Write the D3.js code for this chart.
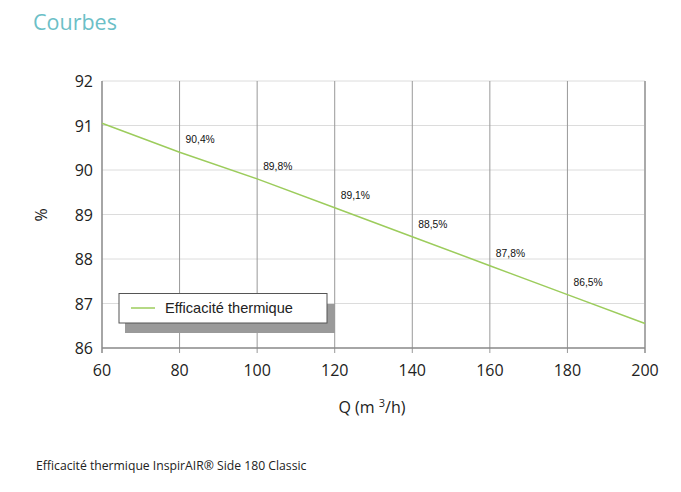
<!DOCTYPE html>
<html><head><meta charset="utf-8">
<script src="https://cdn.jsdelivr.net/npm/d3@7"></script>
<style>body{margin:0;background:#fff}svg{display:block}</style>
</head><body>
<script>
const flows = [60, 80, 100, 120, 140, 160, 180, 200];
const efficiency = [91.05, 90.4, 89.8, 89.15, 88.5, 87.85, 87.2, 86.55];
const labelFlows = [80, 100, 120, 140, 160, 180];
const labelTexts = ["90,4%", "89,8%", "89,1%", "88,5%", "87,8%", "86,5%"];
const xTicks = [60, 80, 100, 120, 140, 160, 180, 200];
const yTicks = [86, 87, 88, 89, 90, 91, 92];
const seriesName = "Efficacité thermique";

const W = 681, H = 492;
const font = "'Open Sans', 'Noto Sans', sans-serif";
const svg = d3.select("body").append("svg").attr("width", W).attr("height", H);
const x = d3.scaleLinear().domain([60, 200]).range([102, 645]);
const y = d3.scaleLinear().domain([86, 92]).range([348, 81]);

svg.append("text").attr("x", 33).attr("y", 30).text("Courbes")
  .attr("font-family", font).attr("font-size", 21.5).attr("fill", "#6cbfc7");

// horizontal grid
svg.append("g").selectAll("line").data(yTicks.filter(d => d > 86)).join("line")
  .attr("x1", x(60)).attr("x2", x(200)).attr("y1", d => y(d)).attr("y2", d => y(d))
  .attr("stroke", "#dcdcdc").attr("stroke-width", 1);
// vertical grid
svg.append("g").selectAll("line").data(xTicks.filter(d => d > 60 && d < 200)).join("line")
  .attr("x1", d => x(d)).attr("x2", d => x(d)).attr("y1", y(92)).attr("y2", y(86) + 5)
  .attr("stroke", "#999").attr("stroke-width", 1);

// axes frame
svg.append("line").attr("x1", x(60)).attr("x2", x(60)).attr("y1", y(92)).attr("y2", y(86) + 5)
  .attr("stroke", "#888").attr("stroke-width", 1.5);
svg.append("line").attr("x1", x(200)).attr("x2", x(200)).attr("y1", y(92)).attr("y2", y(86) + 5)
  .attr("stroke", "#aaa").attr("stroke-width", 2);
svg.append("line").attr("x1", x(60)).attr("x2", x(200)).attr("y1", y(86)).attr("y2", y(86))
  .attr("stroke", "#888").attr("stroke-width", 1.5);

// tick labels
svg.append("g").selectAll("text").data(xTicks).join("text")
  .attr("x", d => x(d)).attr("y", 376).attr("text-anchor", "middle").text(d => d)
  .attr("font-family", font).attr("font-size", 16).attr("fill", "#222");
svg.append("g").selectAll("text").data(yTicks).join("text")
  .attr("x", 93).attr("y", d => y(d) + 6).attr("text-anchor", "end").text(d => d)
  .attr("font-family", font).attr("font-size", 16).attr("fill", "#222");

// axis titles
const xt = svg.append("text").attr("x", 372).attr("y", 413).attr("text-anchor", "middle")
  .attr("font-family", font).attr("font-size", 16).attr("fill", "#222");
xt.append("tspan").text("Q (m ");
xt.append("tspan").text("3").attr("font-size", 11).attr("dy", -6);
xt.append("tspan").text("/h)").attr("dy", 6);
svg.append("text").attr("transform", "translate(47,215) rotate(-90)").attr("text-anchor", "middle")
  .text("%").attr("font-family", font).attr("font-size", 16).attr("fill", "#222");

// line
svg.append("path").datum(flows.map((f, i) => [f, efficiency[i]]))
  .attr("d", d3.line().x(d => x(d[0])).y(d => y(d[1])))
  .attr("fill", "none").attr("stroke", "#9ccc5c").attr("stroke-width", 1.5);

// value labels
svg.append("g").selectAll("text").data(labelFlows).join("text")
  .attr("x", d => x(d) + 6).attr("y", (d, i) => y(efficiency[flows.indexOf(d)]) - 9)
  .text((d, i) => labelTexts[i])
  .attr("font-family", "'Liberation Sans', Arial, sans-serif").attr("font-size", 10.3).attr("fill", "#111");

// legend
svg.append("rect").attr("x", 125).attr("y", 304).attr("width", 210).attr("height", 29).attr("fill", "#9a9a9a");
svg.append("rect").attr("x", 119).attr("y", 293.5).attr("width", 208).attr("height", 29.5)
  .attr("fill", "#fff").attr("stroke", "#555").attr("stroke-width", 1);
svg.append("line").attr("x1", 131).attr("x2", 155).attr("y1", 308).attr("y2", 308)
  .attr("stroke", "#9ccc5c").attr("stroke-width", 1.5);
svg.append("text").attr("x", 165).attr("y", 313).text(seriesName)
  .attr("font-family", "'Liberation Sans', Arial, sans-serif").attr("font-size", 14.6).attr("fill", "#222");

svg.append("text").attr("x", 36).attr("y", 470).text("Efficacité thermique InspirAIR® Side 180 Classic")
  .attr("font-family", font).attr("font-size", 12.2).attr("fill", "#222");
</script>
</body></html>
